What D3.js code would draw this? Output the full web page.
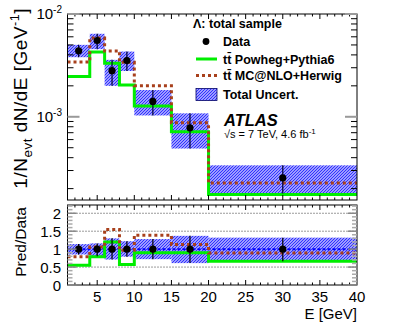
<!DOCTYPE html>
<html><head><meta charset="utf-8">
<script src="https://cdn.jsdelivr.net/npm/d3@7"></script>
<style>
body{margin:0;background:#fff}
text{font-family:"Liberation Sans",Arial,Helvetica,sans-serif;fill:#000}
</style></head>
<body><svg id="c" width="420" height="327"></svg>
<script>
// ---- data ----
const binEdges   = [1, 4, 6, 8, 10, 15, 20, 40];
const binCenters = [2.5, 5, 7, 9, 12.5, 17.5, 30];
const dataVal = [4.39e-3, 5.52e-3, 2.81e-3, 3.52e-3, 1.41e-3, 7.82e-4, 2.54e-4];
const uncHi   = [5.01e-3, 6.42e-3, 3.58e-3, 4.31e-3, 1.82e-3, 1.08e-3, 3.37e-4];
const uncLo   = [3.80e-3, 4.55e-3, 2.00e-3, 2.79e-3, 1.03e-3, 4.91e-4, 1.79e-4];
const powheg  = [2.46e-3, 4.26e-3, 3.32e-3, 2.04e-3, 1.27e-3, 7.14e-4, 1.75e-4];
const mcnlo   = [3.42e-3, 5.83e-3, 4.36e-3, 3.40e-3, 2.00e-3, 8.73e-4, 2.27e-4];
const ratioPowheg = [0.55, 0.79, 1.20, 0.57, 0.90, 0.90, 0.66];
const ratioMcnlo  = [0.79, 1.06, 1.55, 0.97, 1.39, 1.13, 0.89];
const ratioUncHi  = [1.14, 1.16, 1.30, 1.22, 1.28, 1.37, 1.32];
const ratioUncLo  = [0.85, 0.80, 0.71, 0.79, 0.72, 0.61, 0.66];
const xTicks = [5, 10, 15, 20, 25, 30, 35, 40];
const ratioTicks = [0, 0.5, 1, 1.5, 2];
const ratioGrid = [0.5, 1.5, 2];
const legendLabels = ["Data", "t\u0074\u0304 Powheg+Pythia6", "t\u0074\u0304 MC@NLO+Herwig", "Total Uncert."];

// ---- layout ----
const svg = d3.select("#c");
const L = 67.5, R = 357;
const topT = 14, topB = 200, rT = 205, rB = 285;
const x = d3.scaleLinear().domain([1, 40]).range([L, R]);
const y = d3.scaleLog().domain([1.55e-4, 1e-2]).range([topB, topT]);
const yr = d3.scaleLinear().domain([0, 2.23]).range([rB, rT]);
const GREEN = "#00ee00", RED = "#a8401c", BLUE = "#2b2bff";

const defs = svg.append("defs");
const pat = defs.append("pattern").attr("id", "hatch").attr("patternUnits", "userSpaceOnUse")
  .attr("width", 3).attr("height", 3);
pat.append("rect").attr("width", 3).attr("height", 3).attr("fill", "#d0d0ff");
pat.append("path").attr("d", "M-1,1 l2,-2 M0,3 l3,-3 M2,4 l2,-2").attr("stroke", BLUE).attr("stroke-width", 1.2);
defs.append("clipPath").attr("id", "clipTop").append("rect").attr("x", L).attr("y", topT).attr("width", R - L).attr("height", topB - topT);
defs.append("clipPath").attr("id", "clipR").append("rect").attr("x", L).attr("y", rT).attr("width", R - L).attr("height", rB - rT);

const idx = d3.range(dataVal.length);
function stepPts(vals) { return idx.map(i => [binEdges[i], vals[i]]).concat([[binEdges[binEdges.length - 1], vals[vals.length - 1]]]); }

// ---- top panel ----
const gT = svg.append("g").attr("clip-path", "url(#clipTop)");
gT.selectAll("rect.band").data(idx).join("rect")
  .attr("x", i => x(binEdges[i])).attr("width", i => x(binEdges[i + 1]) - x(binEdges[i]))
  .attr("y", i => y(uncHi[i])).attr("height", i => y(uncLo[i]) - y(uncHi[i]))
  .attr("fill", "url(#hatch)");
const lineT = d3.line().x(d => x(d[0])).y(d => y(d[1])).curve(d3.curveStepAfter);
gT.append("path").attr("d", lineT(stepPts(powheg))).attr("fill", "none").attr("stroke", GREEN).attr("stroke-width", 3);
gT.append("path").attr("d", lineT(stepPts(mcnlo))).attr("fill", "none").attr("stroke", RED).attr("stroke-width", 3).attr("stroke-dasharray", "3,3");
gT.selectAll("line.err").data(idx).join("line")
  .attr("x1", i => x(binCenters[i])).attr("x2", i => x(binCenters[i]))
  .attr("y1", i => y(uncHi[i])).attr("y2", i => y(uncLo[i])).attr("stroke", "#000033").attr("stroke-width", 1.2);
gT.selectAll("circle").data(idx).join("circle")
  .attr("cx", i => x(binCenters[i])).attr("cy", i => y(dataVal[i])).attr("r", 3.6).attr("fill", "#000");

// ---- ratio panel ----
const gR = svg.append("g").attr("clip-path", "url(#clipR)");
gR.selectAll("line.grid").data(ratioGrid).join("line")
  .attr("x1", L).attr("x2", R).attr("y1", d => yr(d)).attr("y2", d => yr(d))
  .attr("stroke", "#000").attr("stroke-width", 0.8).attr("stroke-dasharray", "1,2");
gR.selectAll("rect.band").data(idx).join("rect")
  .attr("x", i => x(binEdges[i])).attr("width", i => x(binEdges[i + 1]) - x(binEdges[i]))
  .attr("y", i => yr(ratioUncHi[i])).attr("height", i => yr(ratioUncLo[i]) - yr(ratioUncHi[i]))
  .attr("fill", "url(#hatch)");
gR.append("line").attr("x1", L).attr("x2", R).attr("y1", yr(1)).attr("y2", yr(1))
  .attr("stroke", "#0000ff").attr("stroke-width", 2).attr("stroke-dasharray", "3,2");
const lineR = d3.line().x(d => x(d[0])).y(d => yr(d[1])).curve(d3.curveStepAfter);
gR.append("path").attr("d", lineR(stepPts(ratioPowheg))).attr("fill", "none").attr("stroke", GREEN).attr("stroke-width", 3);
gR.append("path").attr("d", lineR(stepPts(ratioMcnlo))).attr("fill", "none").attr("stroke", RED).attr("stroke-width", 3).attr("stroke-dasharray", "3,3");
gR.selectAll("line.err").data(idx).join("line")
  .attr("x1", i => x(binCenters[i])).attr("x2", i => x(binCenters[i]))
  .attr("y1", i => yr(ratioUncHi[i])).attr("y2", i => yr(ratioUncLo[i])).attr("stroke", "#000").attr("stroke-width", 1.2);
gR.selectAll("circle").data(idx).join("circle")
  .attr("cx", i => x(binCenters[i])).attr("cy", yr(1)).attr("r", 3.6).attr("fill", "#000");

// ---- frames & ticks ----
function frame(t, b) {
  svg.append("rect").attr("x", L).attr("y", t).attr("width", R - L).attr("height", b - t)
    .attr("fill", "none").attr("stroke", "#000").attr("stroke-width", 1);
}
frame(topT, topB); frame(rT, rB);

const xMinor = d3.range(2, 40, 1);
function xTickMarks(t, b, maj, min) {
  xMinor.forEach(v => {
    const len = v % 5 === 0 ? maj : min;
    svg.append("line").attr("x1", x(v)).attr("x2", x(v)).attr("y1", b).attr("y2", b - len).attr("stroke", "#000");
    svg.append("line").attr("x1", x(v)).attr("x2", x(v)).attr("y1", t).attr("y2", t + len).attr("stroke", "#000");
  });
}
xTickMarks(topT, topB, 5, 2.5);
xTickMarks(rT, rB, 5, 2.5);

// log y ticks
const logTicks = y.ticks();
logTicks.forEach(v => {
  const major = Math.abs(Math.log10(v) - Math.round(Math.log10(v))) < 1e-6;
  const len = major ? 12 : 6;
  const col = major ? "#999" : "#000";
  const w = major ? 2 : 1;
  svg.append("line").attr("x1", L).attr("x2", L + len).attr("y1", y(v)).attr("y2", y(v)).attr("stroke", col).attr("stroke-width", w);
  svg.append("line").attr("x1", R).attr("x2", R - len).attr("y1", y(v)).attr("y2", y(v)).attr("stroke", col).attr("stroke-width", w);
});
// log labels
[1e-2, 1e-3].forEach(v => {
  const t = svg.append("text").attr("x", 62).attr("y", y(v) + 5).attr("text-anchor", "end").attr("font-size", 15);
  t.append("tspan").text("10");
  t.append("tspan").attr("font-size", 10).attr("dy", -6).text("-" + Math.round(-Math.log10(v)));
});

// ratio y ticks
d3.range(0, 2.23, 0.1).forEach(v => {
  const major = Math.abs(v * 2 - Math.round(v * 2)) < 1e-6;
  const len = major ? 9 : 5;
  svg.append("line").attr("x1", L).attr("x2", L + len).attr("y1", yr(v)).attr("y2", yr(v)).attr("stroke", major ? "#888" : "#aaa").attr("stroke-width", 1.5);
  svg.append("line").attr("x1", R).attr("x2", R - len).attr("y1", yr(v)).attr("y2", yr(v)).attr("stroke", major ? "#888" : "#aaa").attr("stroke-width", 1.5);
});
svg.selectAll("text.rt").data(ratioTicks).join("text").attr("class", "rt")
  .attr("x", 61).attr("y", d => yr(d) + 5.5).attr("text-anchor", "end").attr("font-size", 15)
  .text(d => d3.format("~g")(d));

// x tick labels
svg.selectAll("text.xt").data(xTicks).join("text").attr("class", "xt")
  .attr("x", d => x(d)).attr("y", 302).attr("text-anchor", "middle").attr("font-size", 15).text(d => d);
svg.append("text").attr("x", 357).attr("y", 319).attr("text-anchor", "end").attr("font-size", 15).text("E [GeV]");

// y titles
const yt = svg.append("text").attr("transform", "translate(26.5,8) rotate(-90)").attr("text-anchor", "end")
  .attr("font-size", 19).attr("letter-spacing", 0.5);
yt.append("tspan").text("1/N");
yt.append("tspan").attr("font-size", 13.5).attr("dy", 5).text("evt");
yt.append("tspan").attr("dy", -5).text(" dN/dE [GeV");
yt.append("tspan").attr("font-size", 12.5).attr("dy", -8).text("-1");
yt.append("tspan").attr("dy", 8).text("]");
svg.append("text").attr("transform", "translate(25.5,207) rotate(-90)").attr("text-anchor", "end").attr("font-size", 15.5).text("Pred/Data");

// ---- legend ----
const lg = svg.append("g");
lg.append("text").attr("x", 193).attr("y", 28).attr("font-size", 12.5).attr("font-weight", "bold").text("\u039B: total sample");
const ly = [41.5, 59, 75.5, 94.5];
lg.append("circle").attr("cx", 206).attr("cy", ly[0]).attr("r", 3.4).attr("fill", "#000");
lg.append("line").attr("x1", 196).attr("x2", 217).attr("y1", ly[1]).attr("y2", ly[1]).attr("stroke", GREEN).attr("stroke-width", 3);
lg.append("line").attr("x1", 196).attr("x2", 217).attr("y1", ly[2]).attr("y2", ly[2]).attr("stroke", RED).attr("stroke-width", 3).attr("stroke-dasharray", "3,3");
lg.append("rect").attr("x", 196).attr("y", ly[3] - 6).attr("width", 21).attr("height", 12).attr("fill", "url(#hatch)").attr("stroke", "#000066").attr("stroke-width", 0.8);
lg.selectAll("text.li").data(legendLabels).join("text").attr("class", "li")
  .attr("x", 223).attr("y", (d, i) => ly[i] + 4.5).attr("font-size", 12.5).attr("font-weight", "bold").text(d => d);

svg.append("text").attr("x", 224).attr("y", 126).attr("font-size", 16.5).attr("font-weight", "bold").attr("font-style", "italic").text("ATLAS");
const en = svg.append("text").attr("x", 224).attr("y", 137.5).attr("font-size", 11);
en.append("tspan").text("\u221As = 7 TeV, 4.6 fb");
en.append("tspan").attr("font-size", 8).attr("dy", -4).text("-1");
</script></body></html>
